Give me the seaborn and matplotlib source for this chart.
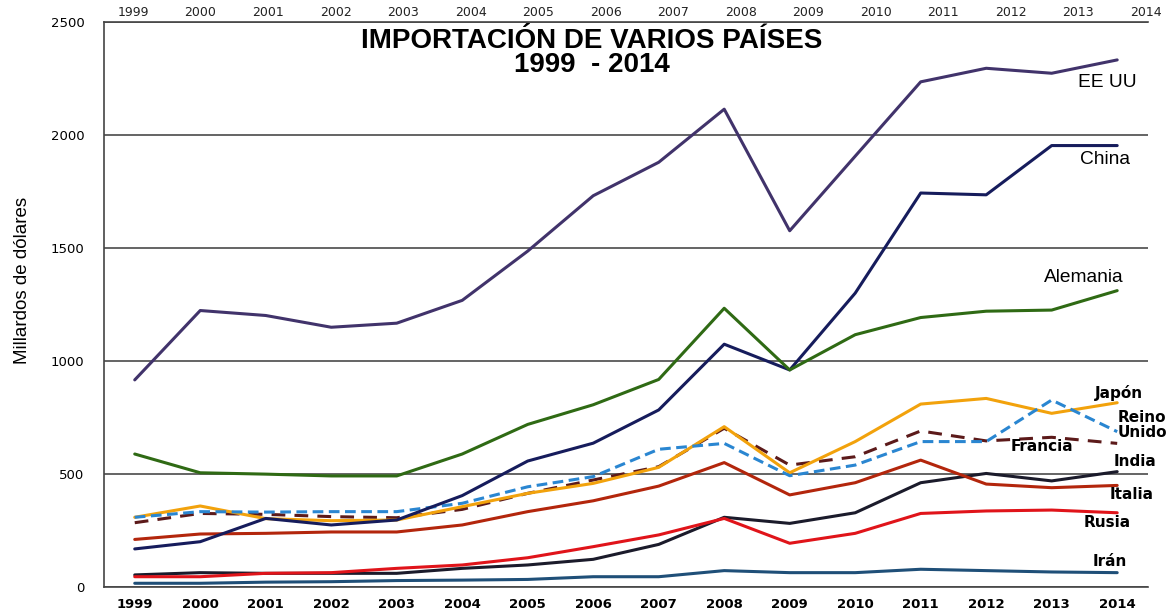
import numpy as np
import pandas as pd
import seaborn as sns
import matplotlib.pyplot as plt

years = list(range(1999, 2015))

eeuu = [915, 1222, 1200, 1148, 1166, 1267, 1485, 1730, 1878, 2113, 1575, 1905, 2234, 2294, 2272, 2331]
china = [167, 199, 302, 273, 295, 403, 556, 635, 782, 1073, 959, 1299, 1742, 1734, 1952, 1952]
alemania = [587, 504, 498, 490, 490, 587, 718, 805, 917, 1232, 959, 1115, 1191, 1219, 1224, 1310]
japon = [307, 357, 301, 292, 295, 354, 413, 457, 528, 708, 504, 642, 808, 833, 767, 814]
reino_unido = [307, 332, 330, 332, 332, 369, 442, 487, 608, 634, 491, 538, 642, 642, 826, 686]
francia = [283, 324, 320, 310, 305, 342, 413, 472, 531, 701, 538, 575, 689, 645, 661, 634]
italia = [209, 233, 236, 242, 242, 273, 332, 380, 445, 549, 406, 460, 560, 454, 438, 448]
india = [52, 62, 59, 59, 59, 81, 96, 121, 187, 307, 280, 327, 460, 501, 468, 509]
rusia = [44, 44, 59, 62, 81, 96, 128, 177, 229, 302, 192, 236, 324, 335, 339, 327]
iran = [15, 15, 20, 22, 27, 29, 32, 44, 44, 71, 62, 62, 77, 71, 65, 62]

yticks = [0, 500, 1000, 1500, 2000, 2500]

sns.set_style('white')
plt.rcParams['font.family'] = ['Liberation Sans', 'DejaVu Sans']
plt.rcParams['text.color'] = 'black'
plt.rcParams['xtick.color'] = 'black'
plt.rcParams['ytick.color'] = 'black'

fig = plt.figure(figsize=(11.72, 6.12), dpi=100)
ax = fig.add_axes([0.0887, 0.0414, 0.8908, 0.9231])

# (values, colour, linestyle) in drawing order
series = [
    (iran, '#1f4f78', '-'),
    (india, '#1b1b2b', '-'),
    (rusia, '#e0141a', '-'),
    (italia, '#b3260c', '-'),
    (francia, '#5c1a1a', (0, (4.5, 3))),
    (japon, '#f2a20c', '-'),
    (reino_unido, '#2a86d1', (0, (3.5, 1.8))),
    (china, '#161c5c', '-'),
    (alemania, '#2f6a14', '-'),
    (eeuu, '#41336b', '-'),
]
for vals, col, ls in series:
    sns.lineplot(x=years, y=vals, color=col, linestyle=ls, linewidth=2.2, ax=ax)

ax.set_xlim(1998.53, 2014.47)
ax.set_ylim(0, 2500)
ax.set_yticks(yticks)
ax.set_xticks(years)
ax.set_xticklabels([str(y) for y in years], fontsize=9.5, fontweight='bold',
                   family='DejaVu Sans')
ax.set_yticklabels([str(v) for v in yticks], fontsize=9.5, family='DejaVu Sans')
ax.tick_params(axis='x', length=0, pad=8)
ax.tick_params(axis='y', length=0, pad=14)
ax.yaxis.grid(True, color='#3a3a3a', linewidth=1.1)
ax.set_axisbelow(True)
for side in ['top', 'left', 'bottom']:
    ax.spines[side].set_color('#444444')
    ax.spines[side].set_linewidth(1.2)
ax.spines['right'].set_visible(False)
ax.set_xlabel('')
ax.set_ylabel('')

# years repeated along the top
top = ax.twiny()
top.set_xlim(1998.57, 2014.03)
top.set_xticks(years)
top.set_xticklabels([str(y) for y in years], fontsize=9, family='DejaVu Sans',
                    color='#222222')
top.tick_params(axis='x', length=0, pad=2)
for s in top.spines.values():
    s.set_visible(False)

fig.text(0.019, 0.542, 'Millardos de dólares', rotation=90, ha='center',
         va='center', fontsize=13.5)

ax.text(0.467, 0.945, 'IMPORTACIÓN DE VARIOS PAÍSES\n1999  - 2014',
        transform=ax.transAxes, ha='center', va='center', multialignment='center',
        linespacing=0.88, fontsize=20, fontweight='bold')

big = dict(fontsize=13.8, color='black', va='center')
ax.text(2014.3, 2230, 'EE UU', ha='right', **big)
ax.text(2014.2, 1891, 'China', ha='right', **big)
ax.text(2014.1, 1370, 'Alemania', ha='right', **big)

small = dict(fontsize=11, color='black', va='center', family='DejaVu Sans',
             fontweight='bold')
ax.text(2014.4, 857, 'Japón', ha='right', **small)
ax.text(2014.0, 716, 'Reino\nUnido', ha='left', linespacing=0.95, **small)
ax.text(2012.85, 620, 'Francia', ha='center', **small)
ax.text(2014.6, 553, 'India', ha='right', **small)
ax.text(2014.55, 406, 'Italia', ha='right', **small)
ax.text(2014.2, 283, 'Rusia', ha='right', **small)
ax.text(2014.15, 111, 'Irán', ha='right', **small)

fig.savefig('out.png', dpi=100)
